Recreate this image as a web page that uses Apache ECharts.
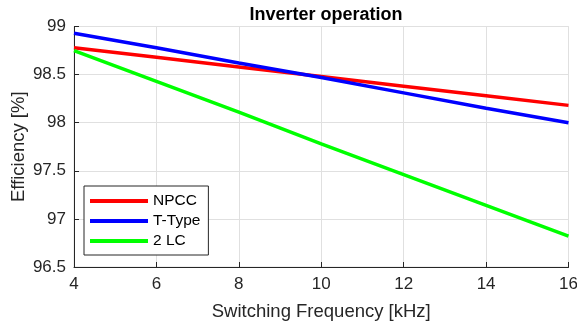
<!DOCTYPE html>
<html>
<head>
<meta charset="UTF-8">
<title>Inverter operation</title>
<script src="https://cdn.jsdelivr.net/npm/echarts@6/dist/echarts.min.js"></script>
<style>
  html, body { margin: 0; padding: 0; background: #fff; }
  #chart { width: 577px; height: 333px; }
</style>
</head>
<body>
<div id="chart"></div>
<script>
// switching frequency in kHz
var freq = [4, 6, 8, 10, 12, 14, 16];
// efficiency in %
var npcc  = [98.78, 98.68, 98.58, 98.48, 98.38, 98.28, 98.18];
var ttype = [98.93, 98.78, 98.62, 98.47, 98.31, 98.15, 98.00];
var lc2   = [98.75, 98.43, 98.11, 97.78, 97.46, 97.14, 96.82];

var names = ['NPCC', 'T-Type', '2 LC'];
var colors = ['#ff0000', '#0000ff', '#00ff00'];
var values = [npcc, ttype, lc2];

function pairs(ys) {
    var out = [];
    for (var i = 0; i < freq.length; i++) out.push([freq[i], ys[i]]);
    return out;
}

var txt = '#262626';
var font = 'Liberation Sans, Arial, Helvetica, sans-serif';

var series = [];
for (var k = 0; k < names.length; k++) {
    series.push({
        name: names[k],
        type: 'line',
        data: pairs(values[k]),
        showSymbol: false,
        symbol: 'none',
        lineStyle: { color: colors[k], width: 3.5 },
        itemStyle: { color: colors[k] },
        animation: false
    });
}

var chart = echarts.init(document.getElementById('chart'));
chart.setOption({
    backgroundColor: '#ffffff',
    textStyle: { fontFamily: font },
    title: {
        text: 'Inverter operation',
        left: 321, top: 1, textAlign: 'center',
        textStyle: { fontSize: 18, fontWeight: 'bold', color: '#000', fontFamily: font }
    },
    grid: {
        left: 74, right: 8.5, top: 26.5, bottom: 66,
        containLabel: false, outerBoundsMode: 'none',
        show: true, borderColor: '#e0e0e0', borderWidth: 1
    },
    legend: {
        orient: 'vertical', left: 84, top: 186,
        data: names,
        icon: 'rect', itemWidth: 58, itemHeight: 4, itemGap: 4,
        padding: [7, 8, 6, 6],
        borderColor: txt, borderWidth: 1, backgroundColor: '#fff',
        textStyle: { fontSize: 15.5, color: '#000', fontFamily: font }
    },
    xAxis: {
        type: 'value', min: 4, max: 16, interval: 2,
        name: 'Switching Frequency [kHz]', nameLocation: 'middle', nameGap: 35,
        nameMoveOverlap: false,
        nameTextStyle: { fontSize: 18.5, color: txt, fontFamily: font },
        axisLine: { show: true, lineStyle: { color: txt, width: 1 } },
        axisTick: { show: true, inside: true, length: 5, lineStyle: { color: txt } },
        axisLabel: { fontSize: 17, color: txt, margin: 9, fontFamily: font },
        splitLine: { show: true, lineStyle: { color: '#e0e0e0', width: 1 } }
    },
    yAxis: {
        type: 'value', min: 96.5, max: 99, interval: 0.5,
        name: 'Efficiency [%]', nameLocation: 'middle', nameGap: 46,
        nameMoveOverlap: false,
        nameTextStyle: { fontSize: 18.5, color: txt, fontFamily: font },
        axisLine: { show: true, lineStyle: { color: txt, width: 1 } },
        axisTick: { show: true, inside: true, length: 5, lineStyle: { color: txt } },
        axisLabel: { fontSize: 17, color: txt, margin: 8, fontFamily: font },
        splitLine: { show: true, lineStyle: { color: '#e0e0e0', width: 1 } }
    },
    series: series
});
</script>
</body>
</html>
